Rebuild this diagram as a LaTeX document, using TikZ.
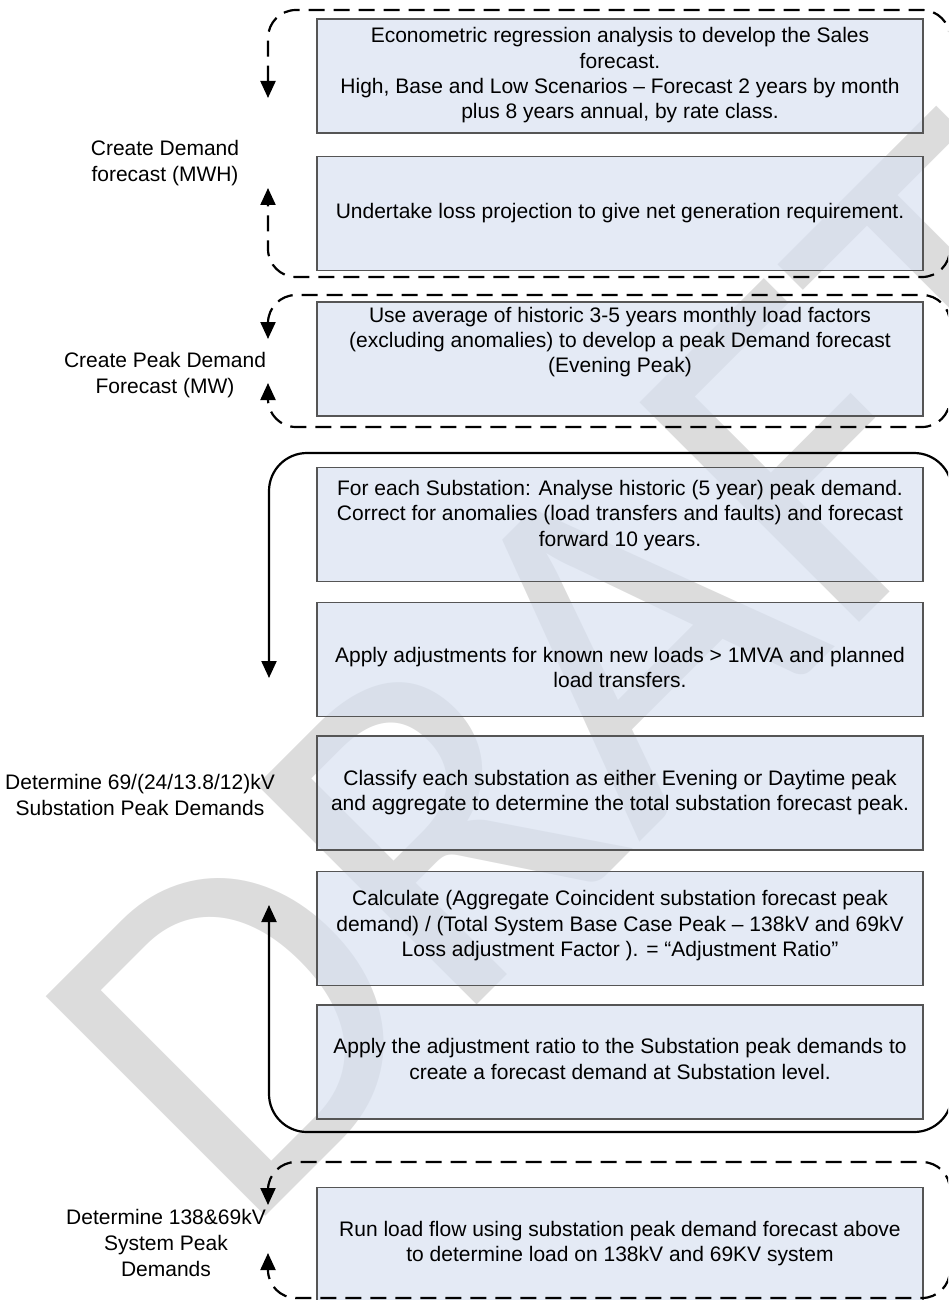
\documentclass[tikz,border=0pt]{standalone}
\usepackage{fontspec}
\setmainfont{Liberation Sans}
\newfontfamily\markfont{Carlito}
\usetikzlibrary{positioning,arrows.meta}
\definecolor{boxfill}{HTML}{D8E1F1}
\definecolor{boxline}{HTML}{555555}
\definecolor{markgray}{HTML}{DCDCDC}
% box text, lifted by #1 from the box centre
\newcommand\boxtext[2][0pt]{\raisebox{\dimexpr#1-2.6pt\relax}[0pt][0pt]{\begin{tabular}{@{}c@{}}#2\end{tabular}}}
\begin{document}
\begin{tikzpicture}[x=0.5pt, y=-0.5pt, node distance=10pt,
	box/.style = {draw=boxline, line width=0.7pt, fill=boxfill, fill opacity=0.7, text opacity=1, minimum width=303pt, minimum height=57pt, inner sep=0pt, font=\fontsize{10.5}{12.6}\selectfont},
	lbl/.style = {align=center, inner sep=0pt, font=\fontsize{10.5}{12.9}\selectfont},
	loop/.style = {line width=1.1pt, {Triangle[width=7.5pt,length=8.5pt]}-{Triangle[width=7.5pt,length=8.5pt]}},
	dashloop/.style = {loop, rounded corners=14pt, dash pattern=on 8pt off 4.5pt},
	solidloop/.style = {loop, rounded corners=19pt}]
		\useasboundingbox (0,0) rectangle (948,1300);
		\clip (0,0) rectangle (948,1300);
		%% WATERMARK
		\node[rotate=45, anchor=base west, inner sep=0pt, text=markgray, font=\markfont\fontsize{242}{242}\selectfont] (mark) at (242,1240) {DRAFT};
		%% NODES
		% Demand forecast (MWH)
		\node[box] (b1) at (620,76) {\boxtext{Econometric regression analysis to develop the Sales\\forecast.\\High, Base and Low Scenarios -- Forecast 2 years by month\\plus 8 years annual, by rate class.}};
		\node[box, below=11pt of b1] (b2) {\boxtext{Undertake loss projection to give net generation requirement.}};
		% Peak demand forecast (MW)
		\node[box, below=15pt of b2] (b3) {\boxtext[8pt]{Use average of historic 3-5 years monthly load factors\\(excluding anomalies) to develop a peak Demand forecast\\(Evening Peak)}};
		% Substation peak demands
		\node[box, below=25pt of b3] (b4) {\boxtext[4pt]{For each Substation: Analyse historic (5 year) peak demand.\\Correct for anomalies (load transfers and faults) and forecast\\forward 10 years.}};
		\node[box, below=of b4] (b5) {\boxtext[-5.5pt]{Apply adjustments for known new loads > 1MVA and planned\\load transfers.}};
		\node[box, below=9pt of b5] (b6) {\boxtext{Classify each substation as either Evening or Daytime peak\\and aggregate to determine the total substation forecast peak.}};
		\node[box, below=of b6] (b7) {\boxtext[1pt]{Calculate (Aggregate Coincident substation forecast peak\\demand) / (Total System Base Case Peak -- 138kV and 69kV\\Loss adjustment Factor ). = “Adjustment Ratio”}};
		\node[box, below=9pt of b7] (b8) {\boxtext{Apply the adjustment ratio to the Substation peak demands to\\create a forecast demand at Substation level.}};
		% System peak demands
		\node[box, below=33.5pt of b8] (b9) {\boxtext{Run load flow using substation peak demand forecast above\\to determine load on 138kV and 69KV system}};
		% Labels
		\node[lbl] (l1) at (165,163) {Create Demand\\forecast (MWH)};
		\node[lbl] (l2) at (165,375) {Create Peak Demand\\Forecast (MW)};
		\node[lbl] (l3) at (140,795) {Determine 69/(24/13.8/12)kV\\Substation Peak Demands};
		\node[lbl] (l4) at (166,1243) {Determine 138\&69kV\\System Peak\\Demands};
		% Arrow tips
		\coordinate (d1) at (268,98);
		\coordinate (u1) at (268,188);
		\coordinate (d2) at (268,339);
		\coordinate (u2) at (268,383);
		\coordinate (d3) at (269,678);
		\coordinate (u3) at (269,905);
		\coordinate (d4) at (268,1205);
		\coordinate (u4) at (268,1253);
		%% LOOPS
		\draw[dashloop] (d1) |- (950,10) |- (268,277) -- (u1);
		\draw[dashloop] (d2) |- (950,295) |- (268,427) -- (u2);
		\draw[solidloop] (d3) |- (952,453) |- (269,1132) -- (u3);
		\draw[dashloop] (d4) |- (950,1162) |- (268,1298) -- (u4);
	\end{tikzpicture}
\end{document}
